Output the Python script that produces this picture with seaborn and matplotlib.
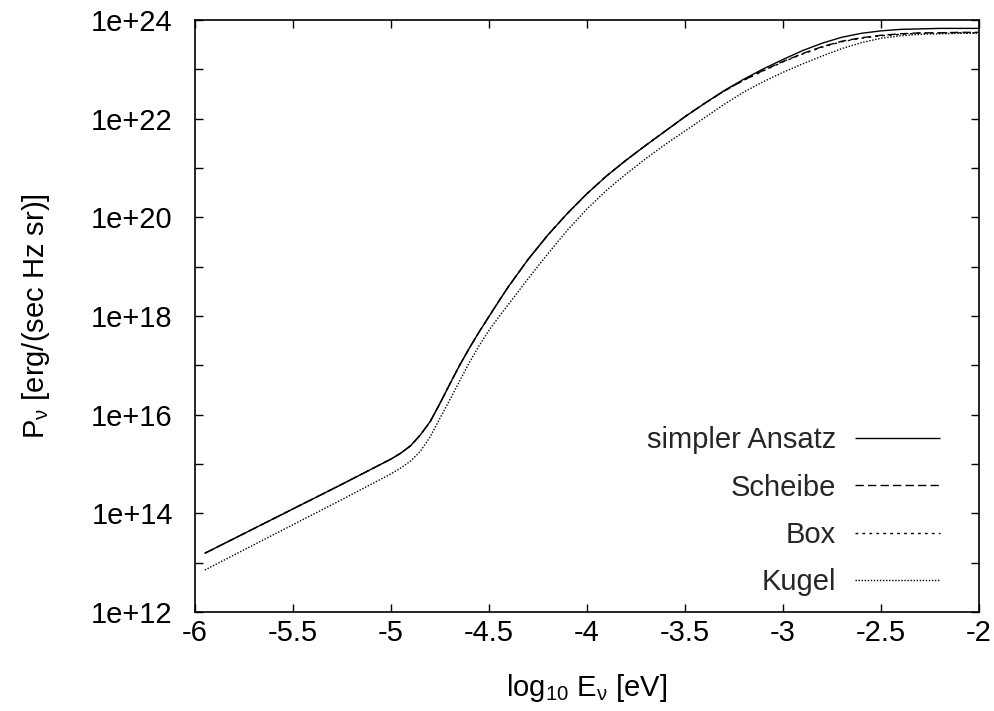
import numpy as np
import pandas as pd
import matplotlib
matplotlib.use("Agg")
import matplotlib.pyplot as plt
import seaborn as sns
from matplotlib.ticker import FixedLocator, FixedFormatter

sns.set_theme(style="white")
plt.rcParams['font.family'] = ['Liberation Sans', 'DejaVu Sans']
plt.rcParams['mathtext.fontset'] = 'custom'
plt.rcParams['mathtext.rm'] = 'Liberation Sans'
plt.rcParams['mathtext.it'] = 'Liberation Sans'

# log10(E) [eV]
x_vals = [-5.95, -5.75, -5.5, -5.25, -5.0, -4.95, -4.9, -4.85, -4.8, -4.75, -4.7, -4.65,
          -4.6, -4.55, -4.5, -4.45, -4.4, -4.3, -4.2, -4.1, -4.0, -3.9, -3.8, -3.7, -3.6, -3.5,
          -3.4, -3.3, -3.2, -3.1, -3.0, -2.9, -2.8, -2.7, -2.6, -2.5, -2.4, -2.3, -2.2,
          -2.1, -2.0]

# log10(P_nu)
simpler_ansatz = [13.19, 13.59, 14.09, 14.59, 15.10, 15.22, 15.37, 15.59, 15.86, 16.23, 16.62, 17.00,
                  17.35, 17.68, 17.99, 18.30, 18.60, 19.15, 19.64, 20.08, 20.48, 20.84, 21.16, 21.46, 21.75, 22.04,
                  22.31, 22.57, 22.80, 23.01, 23.20, 23.38, 23.53, 23.65, 23.73, 23.78, 23.81, 23.82, 23.83,
                  23.83, 23.83]
scheibe = [13.19, 13.59, 14.09, 14.59, 15.10, 15.22, 15.37, 15.59, 15.86, 16.23, 16.62, 17.00,
           17.35, 17.68, 17.99, 18.30, 18.60, 19.15, 19.64, 20.08, 20.48, 20.84, 21.16, 21.46, 21.75, 22.04,
           22.31, 22.56, 22.78, 22.98, 23.16, 23.32, 23.46, 23.57, 23.64, 23.69, 23.72, 23.74, 23.74,
           23.75, 23.75]
box = [13.19, 13.59, 14.09, 14.59, 15.10, 15.22, 15.37, 15.59, 15.86, 16.23, 16.62, 17.00,
       17.35, 17.68, 17.99, 18.30, 18.60, 19.15, 19.64, 20.08, 20.48, 20.84, 21.16, 21.46, 21.75, 22.04,
       22.31, 22.56, 22.78, 22.97, 23.15, 23.31, 23.45, 23.56, 23.63, 23.68, 23.71, 23.73, 23.74,
       23.74, 23.74]
kugel = [12.85, 13.26, 13.77, 14.28, 14.80, 14.92, 15.06, 15.26, 15.55, 15.93, 16.30, 16.68,
         17.06, 17.40, 17.71, 17.98, 18.24, 18.76, 19.26, 19.74, 20.17, 20.55, 20.88, 21.19, 21.48, 21.75,
         22.02, 22.29, 22.54, 22.75, 22.94, 23.11, 23.27, 23.42, 23.54, 23.63, 23.68, 23.71, 23.72,
         23.73, 23.73]

series_names = ["simpler Ansatz", "Scheibe", "Box", "Kugel"]
series_vals = [simpler_ansatz, scheibe, box, kugel]

x_ticks = [-6, -5.5, -5, -4.5, -4, -3.5, -3, -2.5, -2]
x_tick_labels = ["-6", "-5.5", "-5", "-4.5", "-4", "-3.5", "-3", "-2.5", "-2"]
y_ticks = [1e12, 1e14, 1e16, 1e18, 1e20, 1e22, 1e24]
y_tick_labels = ["1e+12", "1e+14", "1e+16", "1e+18", "1e+20", "1e+22", "1e+24"]
y_minor = [1e13, 1e15, 1e17, 1e19, 1e21, 1e23]

styles = {
    "simpler Ansatz": (0, ()),
    "Scheibe": (0, (6, 3)),
    "Box": (0, (2, 3)),
    "Kugel": (0, (1, 1.2)),
}

fig = plt.figure(figsize=(9.94, 7.11), dpi=100)
ax = fig.add_axes([195/994, 1 - 612/711, (979-195)/994, (612-20)/711])

rows = []
for name, vals in zip(series_names, series_vals):
    for xv, yv in zip(x_vals, vals):
        rows.append({"x": xv, "P": 10.0 ** yv, "series": name})
df = pd.DataFrame(rows)

for name in series_names:
    sub = df[df["series"] == name]
    sns.lineplot(data=sub, x="x", y="P", ax=ax, color="black", linewidth=1.0,
                 label=name, estimator=None, sort=False)
    ax.lines[-1].set_linestyle(styles[name])

ax.set_yscale("log")
ax.set_xlim(-6, -2)
ax.set_ylim(1e12, 1e24)

ax.xaxis.set_major_locator(FixedLocator(x_ticks))
ax.xaxis.set_major_formatter(FixedFormatter(x_tick_labels))
ax.yaxis.set_major_locator(FixedLocator(y_ticks))
ax.yaxis.set_major_formatter(FixedFormatter(y_tick_labels))
ax.yaxis.set_minor_locator(FixedLocator(y_minor))
ax.yaxis.set_minor_formatter(FixedFormatter([""] * len(y_minor)))

ax.tick_params(axis="both", which="both", direction="in", top=True, right=True,
               bottom=True, left=True, colors="black", labelsize=21,
               length=6, width=1.0)
ax.tick_params(axis="y", which="both", pad=16)
ax.tick_params(axis="x", which="both", pad=5)

for sp in ax.spines.values():
    sp.set_color("black")
    sp.set_linewidth(1.2)

ax.set_xlabel(r"log$_{10}$ E$_{\nu}$ [eV]", fontsize=21, color="black", labelpad=18)
ax.set_ylabel(r"P$_{\nu}$ [erg/(sec Hz sr)]", fontsize=21, color="black", labelpad=28)

leg = ax.legend(loc="lower right", bbox_to_anchor=(0.95, 0.027), frameon=False,
                fontsize=21, markerfirst=False, handlelength=2.9, handletextpad=0.65,
                labelspacing=0.66, borderpad=0, borderaxespad=0)
for lh, name in zip(leg.get_lines(), series_names):
    lh.set_linestyle(styles[name])
    lh.set_color("black")
    lh.set_linewidth(1.0)

fig.savefig("out.png", dpi=100)
